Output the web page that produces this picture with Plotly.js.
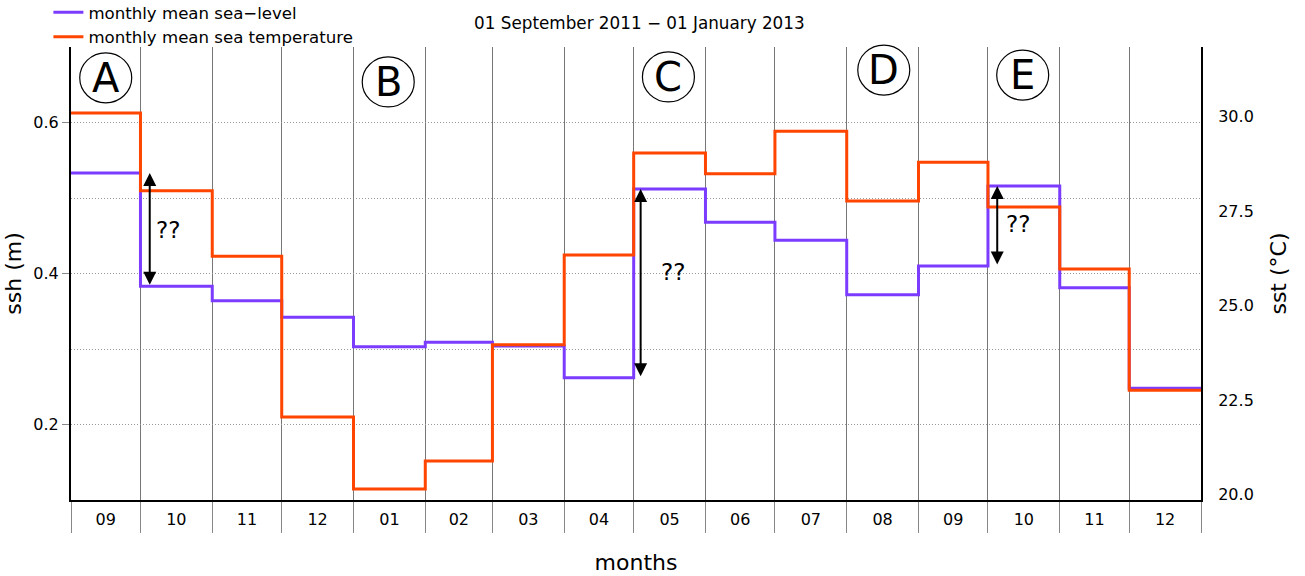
<!DOCTYPE html>
<html>
<head>
<meta charset="utf-8">
<script src="https://cdn.plot.ly/plotly-3.0.1.min.js"></script>
<style>html,body{margin:0;padding:0;background:#fff;}#chart{width:1305px;height:576px;}</style>
</head>
<body>
<div id="chart"></div>
<script>
// ---- data ----
const monthStarts = ['2011-09-01','2011-10-01','2011-11-01','2011-12-01','2012-01-01','2012-02-01',
  '2012-03-01','2012-04-01','2012-05-01','2012-06-01','2012-07-01','2012-08-01',
  '2012-09-01','2012-10-01','2012-11-01','2012-12-01'];
const periodEnd = '2013-01-01';
const sshValues = [0.533,0.383,0.364,0.342,0.303,0.309,0.304,0.262,0.512,0.468,0.444,0.372,0.410,0.516,0.381,0.248];
const sstValues = [30.10,28.04,26.31,22.05,20.14,20.88,23.96,26.34,29.04,28.49,29.62,27.77,28.80,27.61,25.97,22.76];
const seriesNames = ['monthly mean sea\u2212level','monthly mean sea temperature'];
const panelLetters = ['A','B','C','D','E'];
const panelMonths = ['2011-09-16','2012-01-16','2012-05-16','2012-08-17','2012-10-16'];
const arrowDates = ['2011-10-05','2012-05-04','2012-10-05'];
const arrowPairs = [[0,1],[8,7],[13,12]];   // ssh indices for top / bottom of arrow
const qLabelDates = ['2011-10-13','2012-05-18','2012-10-14'];
const qLabelSsh = [0.458,0.402,0.466];
const qText = '??';

const FONT = 'DejaVu Sans, sans-serif';
const xs = monthStarts.concat([periodEnd]);

const traceSst = {
  x: xs, y: sstValues.concat([sstValues[sstValues.length-1]]),
  yaxis: 'y2', type: 'scatter', mode: 'lines', line: {shape: 'hv', color: '#ff4500', width: 3},
  name: seriesNames[1], legendrank: 2, hoverinfo: 'skip'
};
const traceSsh = {
  x: xs, y: sshValues.concat([sshValues[sshValues.length-1]]),
  yaxis: 'y', type: 'scatter', mode: 'lines', line: {shape: 'hv', color: '#7b3cff', width: 3},
  name: seriesNames[0], legendrank: 1, hoverinfo: 'skip'
};

// letter circles: pixel-sized circles anchored at month centres
const letterY = [0.932, 0.923, 0.934, 0.949, 0.938];
const shapes = panelLetters.map((L, i) => ({
  type: 'circle', xref: 'x', yref: 'paper', xsizemode: 'pixel', ysizemode: 'pixel',
  xanchor: panelMonths[i], yanchor: letterY[i], x0: -26, x1: 26, y0: -25, y1: 25,
  line: {color: 'black', width: 1.2}, fillcolor: 'rgba(0,0,0,0)'
}));
const annotations = [];
panelLetters.forEach((L, i) => annotations.push({
  x: panelMonths[i], y: letterY[i], xref: 'x', yref: 'paper', text: L, showarrow: false,
  font: {family: FONT, size: 40, color: 'black'}, xanchor: 'center', yanchor: 'middle'
}));
arrowDates.forEach((d, i) => annotations.push({
  x: d, y: sshValues[arrowPairs[i][0]], ax: d, ay: sshValues[arrowPairs[i][1]],
  xref: 'x', yref: 'y', axref: 'x', ayref: 'y', text: '', showarrow: true,
  arrowhead: 2, startarrowhead: 2, arrowside: 'end+start', arrowsize: 1.3, startarrowsize: 1.3,
  arrowwidth: 2, arrowcolor: 'black', standoff: 0, startstandoff: 0
}));
qLabelDates.forEach((d, i) => annotations.push({
  x: d, y: qLabelSsh[i], xref: 'x', yref: 'y', text: qText, showarrow: false,
  font: {family: FONT, size: 23, color: 'black'}, xanchor: 'center', yanchor: 'middle'
}));

const layout = {
  width: 1305, height: 576,
  margin: {l: 71, r: 104, t: 47, b: 76, pad: 0, autoexpand: false},
  paper_bgcolor: 'white', plot_bgcolor: 'white',
  font: {family: FONT, size: 16, color: 'black'},
  title: {text: '01 September 2011 \u2212 01 January 2013', font: {family: FONT, size: 16.8, color: 'black'},
    xref: 'paper', x: 0.503, xanchor: 'center', yref: 'container', y: 0.96, yanchor: 'middle'},
  showlegend: true,
  legend: {xref: 'paper', yref: 'paper', x: -0.02, y: 1.115, xanchor: 'left', yanchor: 'top',
    font: {family: FONT, size: 16.6, color: 'black'}, bgcolor: 'rgba(0,0,0,0)', tracegroupgap: 0,
    itemwidth: 30},
  xaxis: {
    type: 'date', range: [monthStarts[0], periodEnd], dtick: 'M1', tick0: monthStarts[0],
    tickformat: '%m', ticklabelmode: 'period', ticks: 'outside', ticklen: 31, tickcolor: '#888', tickwidth: 1,
    ticklabelstandoff: -27,
    showgrid: true, gridcolor: '#777', gridwidth: 1, zeroline: false,
    showline: true, linecolor: 'black', linewidth: 2,
    tickfont: {family: FONT, size: 16, color: 'black'},
    title: {text: 'months', font: {family: FONT, size: 22, color: 'black'}, standoff: 26},
    automargin: false, fixedrange: true
  },
  yaxis: {
    range: [0.1, 0.7], dtick: 0.2, tick0: 0, tickformat: '.1f',
    ticks: 'outside', ticklen: 7, tickcolor: '#888', tickwidth: 1,
    showgrid: true, gridcolor: '#999', griddash: '1px,2px', gridwidth: 1,
    minor: {dtick: 0.1, tick0: 0, showgrid: true, gridcolor: '#999', griddash: '1px,2px', gridwidth: 1},
    zeroline: false, showline: true, linecolor: 'black', linewidth: 2,
    tickfont: {family: FONT, size: 16, color: 'black'},
    title: {text: 'ssh (m)', font: {family: FONT, size: 22, color: 'black'}, standoff: 6},
    automargin: false, fixedrange: true
  },
  yaxis2: {
    overlaying: 'y', side: 'right', range: [19.85, 31.85], dtick: 2.5, tick0: 0, tickformat: '.1f',
    ticks: '', ticklabelstandoff: 12, showgrid: false, zeroline: false,
    showline: true, linecolor: 'black', linewidth: 2,
    tickfont: {family: FONT, size: 16, color: 'black'},
    title: {text: 'sst (\u00b0C)', font: {family: FONT, size: 22, color: 'black'}, standoff: 18},
    automargin: false, fixedrange: true
  },
  shapes: shapes,
  annotations: annotations
};

Plotly.newPlot('chart', [traceSst, traceSsh], layout, {displayModeBar: false, staticPlot: true});
</script>
</body>
</html>
